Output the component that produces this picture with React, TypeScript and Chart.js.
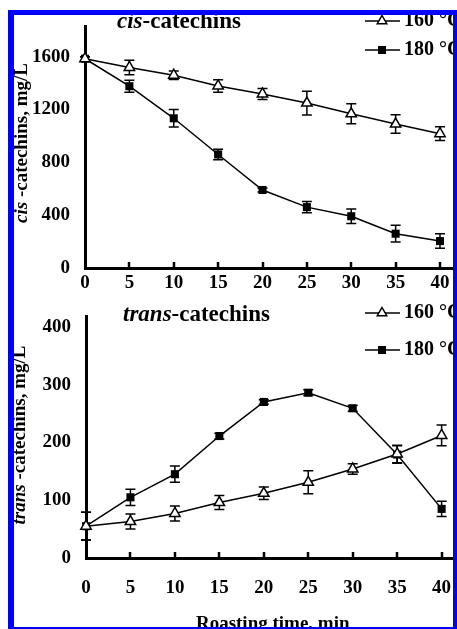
import React, { useEffect, useRef } from 'react';
import { Chart, registerables } from 'chart.js';
Chart.register(...registerables);

const FONT = "'Liberation Serif', 'Times New Roman', Times, serif";

// ---- data ----
const times = [0, 5, 10, 15, 20, 25, 30, 35, 40];
const xTicks = [0, 5, 10, 15, 20, 25, 30, 35, 40];
const legendLabels = ['160 °C', '180 °C'];

const cis160 = [1585, 1519, 1460, 1379, 1318, 1249, 1168, 1090, 1017];
const cis160Err = [15, 55, 33, 47, 42, 90, 76, 70, 52];
const cis180 = [1585, 1377, 1134, 860, 591, 461, 392, 260, 204];
const cis180Err = [15, 46, 66, 40, 15, 43, 55, 64, 55];
const cisYTicks = [0, 400, 800, 1200, 1600];

const trans160 = [55, 63, 77, 96, 112, 131, 154, 180, 212];
const trans160Err = [24, 13, 13, 12, 11, 20, 9, 15, 18];
const trans180 = [55, 105, 145, 211, 270, 286, 259, 179, 85];
const trans180Err = [24, 14, 14, 5, 4, 5, 5, 15, 13];
const transYTicks = [0, 100, 200, 300, 400];

const xTitle = 'Roasting time, min';

type PanelCfg = {
  canvasTop: number;
  canvasH: number;
  plotTop: number;
  plotBottom: number;
  plotLeft: number;
  plotRight: number;
  xMax: number;
  yMax: number;
  yTicks: number[];
  s160: number[];
  e160: number[];
  s180: number[];
  e180: number[];
  titleItalic: string;
  titleRest: string;
  titleX: number;
  titleY: number;
  yItalic: string;
  yRest: string;
  yTitleX: number;
  yTitleY: number;
  legendY: number[];
  xLabelPad: number;
  showXTitle: boolean;
};

const CANVAS_W = 500;

const panels: PanelCfg[] = [
  {
    canvasTop: 0,
    canvasH: 300,
    plotTop: 20,
    plotBottom: 268,
    plotLeft: 85,
    plotRight: 457.75,
    xMax: 42,
    yMax: 1830,
    yTicks: cisYTicks,
    s160: cis160,
    e160: cis160Err,
    s180: cis180,
    e180: cis180Err,
    titleItalic: 'cis',
    titleRest: '-catechins',
    titleX: 117,
    titleY: 22,
    yItalic: 'cis',
    yRest: ' -catechins, mg/L',
    yTitleX: 22,
    yTitleY: 143,
    legendY: [21, 50],
    xLabelPad: 4,
    showXTitle: false,
  },
  {
    canvasTop: 290,
    canvasH: 350,
    plotTop: 312,
    plotBottom: 558,
    plotLeft: 86,
    plotRight: 459.4,
    xMax: 42,
    yMax: 418,
    yTicks: transYTicks,
    s160: trans160,
    e160: trans160Err,
    s180: trans180,
    e180: trans180Err,
    titleItalic: 'trans',
    titleRest: '-catechins',
    titleX: 123,
    titleY: 315,
    yItalic: 'trans',
    yRest: ' -catechins, mg/L',
    yTitleX: 20,
    yTitleY: 435,
    legendY: [313, 350],
    xLabelPad: 19,
    showXTitle: true,
  },
];

function drawMarker(ctx: CanvasRenderingContext2D, kind: number, x: number, y: number) {
  ctx.save();
  ctx.lineWidth = 1.5;
  ctx.strokeStyle = '#000';
  if (kind === 0) {
    const r = 5.5;
    ctx.beginPath();
    ctx.moveTo(x, y - r);
    ctx.lineTo(x + r * 0.866, y + r * 0.5);
    ctx.lineTo(x - r * 0.866, y + r * 0.5);
    ctx.closePath();
    ctx.fillStyle = '#fff';
    ctx.fill();
    ctx.stroke();
  } else {
    ctx.fillStyle = '#000';
    ctx.fillRect(x - 4, y - 4, 8, 8);
  }
  ctx.restore();
}

function PanelChart({ cfg }: { cfg: PanelCfg }) {
  const ref = useRef<HTMLCanvasElement | null>(null);
  useEffect(() => {
    if (!ref.current) return;
    const errs = [cfg.e160, cfg.e180];
    const top = cfg.canvasTop;

    const errorBars = {
      id: 'errorBars',
      beforeDatasetsDraw(chart: any) {
        const ctx = chart.ctx as CanvasRenderingContext2D;
        const xs = chart.scales.x;
        const ys = chart.scales.y;
        ctx.save();
        ctx.strokeStyle = '#000';
        ctx.lineWidth = 1.5;
        chart.data.datasets.forEach((ds: any, di: number) => {
          ds.data.forEach((p: any, i: number) => {
            const e = errs[di][i];
            const x = xs.getPixelForValue(p.x);
            const y1 = ys.getPixelForValue(p.y - e);
            const y2 = ys.getPixelForValue(p.y + e);
            ctx.beginPath();
            ctx.moveTo(x, y1);
            ctx.lineTo(x, y2);
            ctx.moveTo(x - 5, y1);
            ctx.lineTo(x + 5, y1);
            ctx.moveTo(x - 5, y2);
            ctx.lineTo(x + 5, y2);
            ctx.stroke();
          });
        });
        ctx.restore();
      },
    };

    const decorations = {
      id: 'decorations',
      afterDraw(chart: any) {
        const ctx = chart.ctx as CanvasRenderingContext2D;
        const xs = chart.scales.x;
        const area = chart.chartArea;
        ctx.save();
        // inward x ticks
        ctx.strokeStyle = '#000';
        ctx.lineWidth = 2.5;
        xTicks.forEach((v) => {
          if (v === 0) return;
          const x = Math.round(xs.getPixelForValue(v));
          ctx.beginPath();
          ctx.moveTo(x, area.bottom);
          ctx.lineTo(x, area.bottom - 6);
          ctx.stroke();
        });
        // panel title
        ctx.fillStyle = '#000';
        ctx.textBaseline = 'middle';
        ctx.textAlign = 'left';
        ctx.font = `italic bold 23px ${FONT}`;
        ctx.fillText(cfg.titleItalic, cfg.titleX, cfg.titleY - top);
        const w1 = ctx.measureText(cfg.titleItalic).width;
        ctx.font = `bold 23px ${FONT}`;
        ctx.fillText(cfg.titleRest, cfg.titleX + w1, cfg.titleY - top);
        // y title rotated
        ctx.save();
        ctx.translate(cfg.yTitleX, cfg.yTitleY - top);
        ctx.rotate(-Math.PI / 2);
        ctx.font = `italic bold 19px ${FONT}`;
        const wi = ctx.measureText(cfg.yItalic).width;
        ctx.font = `bold 19px ${FONT}`;
        const wr = ctx.measureText(cfg.yRest).width;
        const start = -(wi + wr) / 2;
        ctx.font = `italic bold 19px ${FONT}`;
        ctx.fillText(cfg.yItalic, start, 0);
        ctx.font = `bold 19px ${FONT}`;
        ctx.fillText(cfg.yRest, start + wi, 0);
        ctx.restore();
        // legend
        legendLabels.forEach((lab, k) => {
          const y = cfg.legendY[k] - top;
          ctx.strokeStyle = '#000';
          ctx.lineWidth = 1.5;
          ctx.beginPath();
          ctx.moveTo(365, y);
          ctx.lineTo(400, y);
          ctx.stroke();
          drawMarker(ctx, k, 382, y);
          ctx.fillStyle = '#000';
          ctx.font = `bold 20px ${FONT}`;
          ctx.textAlign = 'left';
          ctx.textBaseline = 'middle';
          ctx.fillText(lab, 404, y);
        });
        ctx.restore();
      },
    };

    const mk = (arr: number[]) => times.map((t, i) => ({ x: t, y: arr[i] }));

    const chart = new Chart(ref.current, {
      type: 'line',
      data: {
        datasets: [
          {
            label: legendLabels[0],
            data: mk(cfg.s160),
            borderColor: '#000',
            borderWidth: 1.5,
            pointStyle: 'triangle',
            pointRadius: 6,
            pointBackgroundColor: '#fff',
            pointBorderColor: '#000',
            pointBorderWidth: 1.5,
            tension: 0,
            clip: false as any,
          },
          {
            label: legendLabels[1],
            data: mk(cfg.s180),
            borderColor: '#000',
            borderWidth: 1.5,
            pointStyle: 'rect',
            pointRadius: 5.7,
            pointBackgroundColor: '#000',
            pointBorderColor: '#000',
            pointBorderWidth: 0,
            tension: 0,
            clip: false as any,
          },
        ],
      },
      options: {
        responsive: false,
        maintainAspectRatio: false,
        animation: false,
        events: [],
        layout: {
          padding: {
            top: cfg.plotTop - top,
            right: CANVAS_W - cfg.plotRight,
            left: 0,
            bottom: 0,
          },
        },
        plugins: {
          legend: { display: false },
          tooltip: { enabled: false },
          title: { display: false },
        },
        scales: {
          x: {
            type: 'linear',
            min: 0,
            max: cfg.xMax,
            grid: { display: false, drawTicks: false },
            border: { display: true, color: '#000', width: 3 },
            afterBuildTicks: (s: any) => {
              s.ticks = xTicks.map((v) => ({ value: v }));
            },
            afterFit: (s: any) => {
              s.height = cfg.canvasH - (cfg.plotBottom - top);
            },
            ticks: {
              color: '#000',
              padding: cfg.xLabelPad,
              autoSkip: false,
              maxRotation: 0,
              callback: (v: any) => String(v),
              font: { family: FONT, size: 19, weight: 'bold' },
            },
            title: {
              display: cfg.showXTitle,
              text: xTitle,
              color: '#000',
              font: { family: FONT, size: 19, weight: 'bold' },
              padding: { top: 0, bottom: 5 },
            },
          },
          y: {
            type: 'linear',
            min: 0,
            max: cfg.yMax,
            grid: { display: false, drawTicks: false },
            border: { display: true, color: '#000', width: 3 },
            afterBuildTicks: (s: any) => {
              s.ticks = cfg.yTicks.map((v) => ({ value: v }));
            },
            afterFit: (s: any) => {
              s.width = cfg.plotLeft;
            },
            ticks: {
              color: '#000',
              padding: 15,
              callback: (v: any) => String(v),
              font: { family: FONT, size: 19, weight: 'bold' },
            },
          },
        },
      },
      plugins: [errorBars, decorations],
    });
    return () => chart.destroy();
  }, [cfg]);

  return (
    <canvas
      ref={ref}
      width={CANVAS_W}
      height={cfg.canvasH}
      style={{
        position: 'absolute',
        left: 0,
        top: cfg.canvasTop,
        width: CANVAS_W,
        height: cfg.canvasH,
      }}
    />
  );
}

export default function App() {
  const blue = 'rgb(0,0,255)';
  return (
    <div
      style={{
        position: 'absolute',
        left: 0,
        top: 0,
        width: 457,
        height: 629,
        overflow: 'hidden',
        background: '#fff',
      }}
    >
      {panels.map((p, i) => (
        <PanelChart key={i} cfg={p} />
      ))}
      {/* blue frame */}
      <div style={{ position: 'absolute', left: 0, top: 0, width: 457, height: 10, background: '#fff', zIndex: 2 }} />
      <div style={{ position: 'absolute', left: 0, top: 0, width: 8, height: 629, background: '#fff', zIndex: 2 }} />
      <div style={{ position: 'absolute', left: 8, top: 10, width: 449, height: 5, background: blue, zIndex: 3 }} />
      <div style={{ position: 'absolute', left: 8, top: 10, width: 6, height: 619, background: blue, zIndex: 3 }} />
      <div style={{ position: 'absolute', left: 453, top: 10, width: 4, height: 619, background: blue, zIndex: 3 }} />
      <div style={{ position: 'absolute', left: 8, top: 627, width: 449, height: 2, background: blue, zIndex: 3 }} />
    </div>
  );
}
